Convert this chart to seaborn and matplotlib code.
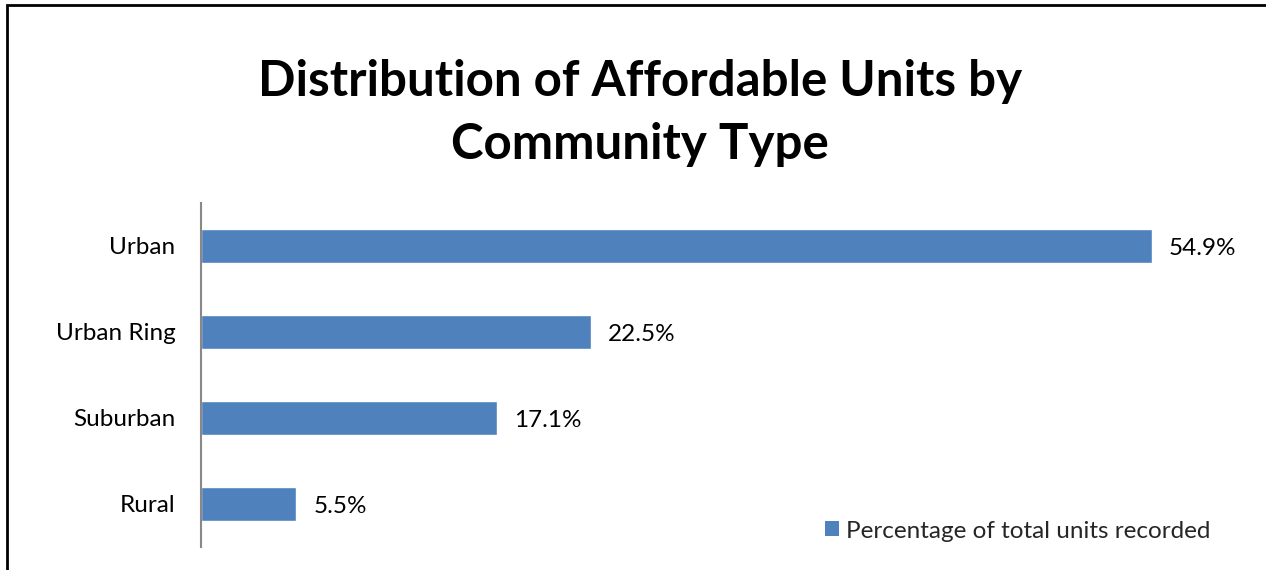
import matplotlib
matplotlib.use("Agg")
import matplotlib.pyplot as plt
import seaborn as sns
import pandas as pd
from matplotlib.patches import Rectangle, Patch

categories = ["Urban", "Urban Ring", "Suburban", "Rural"]
values = [54.9, 22.5, 17.1, 5.5]
series_name = "Percentage of total units recorded"
title = "Distribution of Affordable Units by\nCommunity Type"

sns.set_theme(style="white")
plt.rcParams['font.family'] = ['Lato', 'DejaVu Sans']

W, H = 1266, 570
fig = plt.figure(figsize=(W / 100, H / 100), dpi=100)
ax = fig.add_axes([201 / W, 1 - 547 / H, (1240 - 201) / W, (547 - 203) / H])

df = pd.DataFrame({"cat": categories, "val": values})
sns.barplot(data=df, x="val", y="cat", orient="h", color="#4F81BD",
            saturation=1, width=0.39, ax=ax)

ax.set_xlim(0, 60)
ax.set_ylim(3.5, -0.5)
ax.set_xlabel("")
ax.set_ylabel("")
ax.set_xticks([])
for s in ["top", "right", "bottom"]:
    ax.spines[s].set_visible(False)
ax.spines["left"].set_color("#888888")
ax.spines["left"].set_linewidth(1.5)
ax.tick_params(axis="y", length=0, pad=18.5, labelsize=17.5, labelcolor="#000000")

for i, v in enumerate(values):
    ax.text(v + 1.0, i + 0.03, f"{v:.1f}%", va="center", ha="left", fontsize=17.5, color="#000000")

fig.text(640 / W, 1 - 113 / H, title, ha="center", va="center", fontsize=35.5,
         fontweight="bold", linespacing=1.5, color="#000000")

ax.legend(handles=[Patch(facecolor="#4F81BD", edgecolor="none", label=series_name)],
          loc="center left", bbox_to_anchor=(825 / W, 1 - 531 / H),
          bbox_transform=fig.transFigure, frameon=False, fontsize=17.5,
          handlelength=0.58, handleheight=0.58, handletextpad=0.3, borderpad=0,
          borderaxespad=0)

fig.patches.append(Rectangle((6.5 / W, -0.2), 1.5, (H - 4.5) / H + 0.2,
                             transform=fig.transFigure, fill=False,
                             edgecolor="#000000", linewidth=2))

fig.savefig("out.png", dpi=100)
